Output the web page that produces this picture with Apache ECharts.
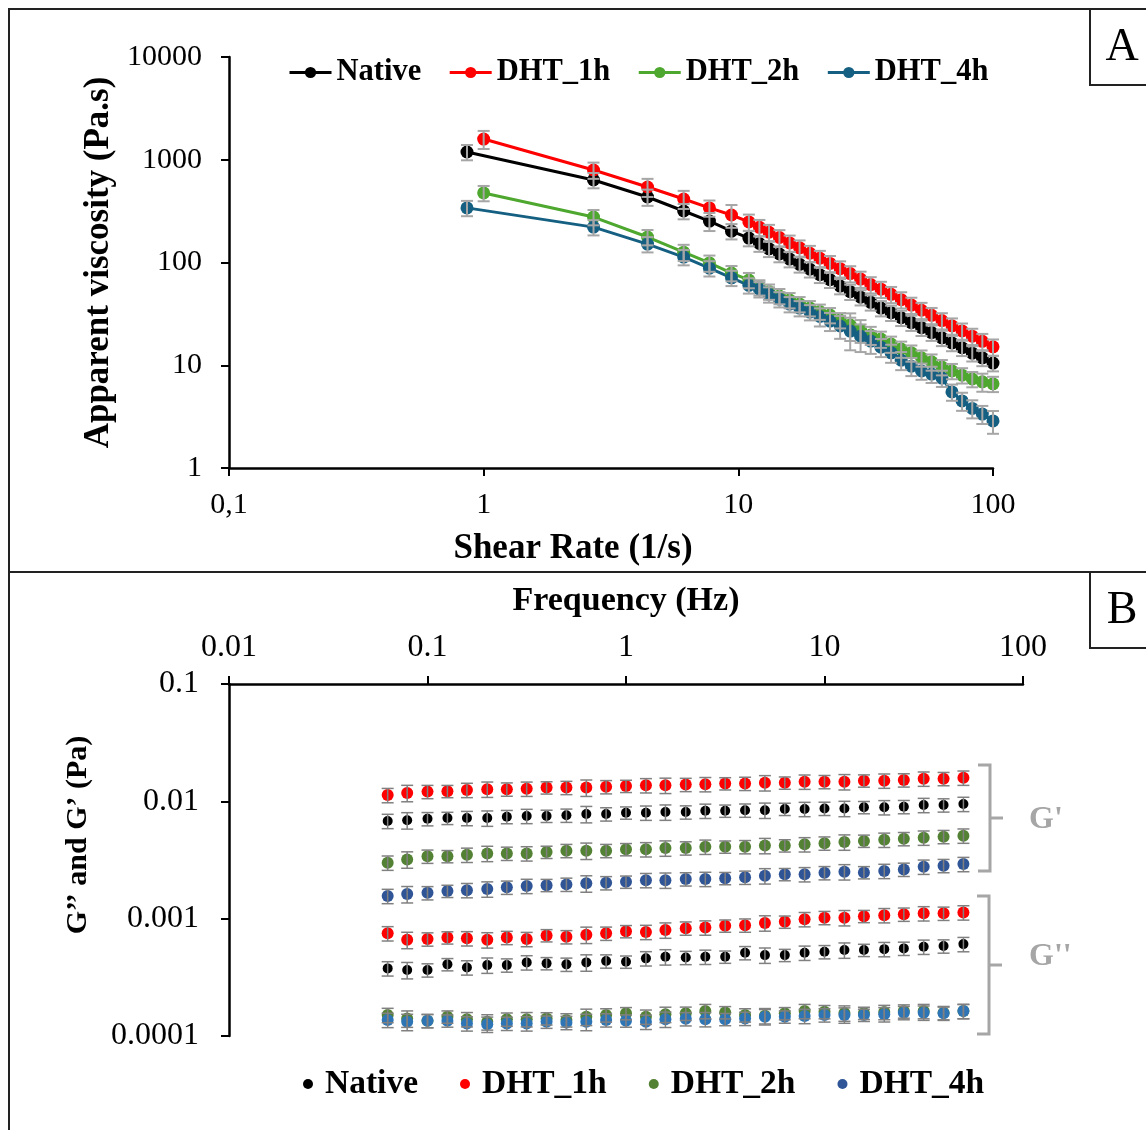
<!DOCTYPE html>
<html><head><meta charset="utf-8">
<script src="https://cdn.jsdelivr.net/npm/echarts@6/dist/echarts.min.js"></script>
<style>html,body{margin:0;padding:0;background:#fff}#c{width:1146px;height:1130px}</style>
</head><body><div id="c"></div>
<script>
// ---------- Panel A data ----------
const seriesNames = ['Native', 'DHT_1h', 'DHT_2h', 'DHT_4h'];
const shearRate = [1, 2.7, 4.4, 6.1, 7.7, 9.4, 11, 12.1, 13.2, 14.5, 15.9, 17.4, 19.1, 20.9, 22.9, 25.1, 27.5, 30.2, 33.1, 36.3, 39.8, 43.6, 47.8, 52.4, 57.4, 63, 69, 75.6, 82.9, 90.8, 100];
const firstShear = [0.86, 1.0, 1.0, 0.86];
const viscNative = [1190, 635, 434, 317, 253, 202, 173, 153, 136, 121, 108, 96, 86, 76, 68, 59, 52, 46, 41, 36, 32.5, 29, 26, 23.2, 20.8, 18.5, 16.5, 14.8, 13.1, 11.8, 10.5];
const viscDHT1h = [1590, 795, 543, 415, 340, 290, 248, 220, 197, 175, 155, 139, 123, 110, 98, 87, 78, 69, 61, 55, 49, 43.5, 38.5, 34.3, 30.6, 27.2, 24.2, 21.6, 19.2, 17.1, 15.1];
const viscDHT2h = [475, 277, 177, 126, 99, 79, 67.6, 57.4, 52.2, 47.2, 43.1, 39.4, 36.0, 33.3, 30.8, 27.5, 24.6, 22.0, 19.7, 18.0, 16.1, 14.4, 13.2, 11.8, 10.8, 9.6, 8.8, 8.0, 7.35, 6.9, 6.6];
const viscDHT4h = [340, 221, 151, 113, 88, 71, 60, 55, 49, 44, 39.4, 36, 32.9, 29.8, 26.9, 24.1, 21.5, 19.2, 17.2, 15.0, 13.2, 11.2, 9.8, 8.8, 8.2, 7.5, 5.5, 4.5, 3.8, 3.35, 2.87];
// relative standard deviations (fraction of value)
const errNativeA = [0.17, 0.17, 0.18, 0.17, 0.2, 0.17, 0.17, 0.17, 0.17, 0.17, 0.17, 0.17, 0.17, 0.17, 0.17, 0.17, 0.17, 0.17, 0.17, 0.17, 0.17, 0.17, 0.17, 0.17, 0.17, 0.17, 0.17, 0.17, 0.17, 0.17, 0.17];
const errDHT1hA = [0.2, 0.18, 0.2, 0.2, 0.18, 0.25, 0.18, 0.18, 0.18, 0.18, 0.18, 0.18, 0.18, 0.18, 0.18, 0.18, 0.18, 0.18, 0.18, 0.18, 0.18, 0.18, 0.18, 0.18, 0.18, 0.18, 0.18, 0.18, 0.18, 0.18, 0.18];
const errDHT2hA = [0.17, 0.17, 0.17, 0.18, 0.18, 0.17, 0.17, 0.17, 0.17, 0.17, 0.17, 0.17, 0.17, 0.17, 0.17, 0.17, 0.3, 0.25, 0.2, 0.18, 0.18, 0.18, 0.18, 0.18, 0.18, 0.17, 0.17, 0.17, 0.17, 0.2, 0.17];
const errDHT4hA = [0.17, 0.17, 0.17, 0.17, 0.17, 0.17, 0.17, 0.17, 0.17, 0.17, 0.17, 0.17, 0.17, 0.2, 0.2, 0.25, 0.35, 0.3, 0.25, 0.2, 0.2, 0.2, 0.2, 0.18, 0.18, 0.18, 0.18, 0.2, 0.2, 0.2, 0.25];
const xTickLabelsA = ['0,1', '1', '10', '100'];
const yTickLabelsA = ['1', '10', '100', '1000', '10000'];

// ---------- Panel B data ----------
const frequency = [0.063, 0.079, 0.1, 0.126, 0.158, 0.2, 0.251, 0.316, 0.398, 0.501, 0.631, 0.794, 1.0, 1.26, 1.58, 2.0, 2.51, 3.16, 3.98, 5.01, 6.31, 7.94, 10, 12.6, 15.8, 20, 25.1, 31.6, 39.8, 50.1];
const gpNative = [0.0068, 0.0069, 0.0071, 0.0072, 0.0072, 0.0072, 0.0074, 0.0075, 0.0075, 0.0076, 0.0078, 0.0078, 0.0080, 0.0080, 0.0081, 0.0081, 0.0083, 0.0083, 0.0084, 0.0084, 0.0086, 0.0086, 0.0087, 0.0087, 0.0089, 0.0089, 0.0090, 0.0093, 0.0093, 0.0095];
const gpDHT1h = [0.0113, 0.0118, 0.0121, 0.0122, 0.0125, 0.0127, 0.0127, 0.0128, 0.0131, 0.0131, 0.0131, 0.0133, 0.0135, 0.0137, 0.0137, 0.0139, 0.0140, 0.0142, 0.0142, 0.0144, 0.0144, 0.0147, 0.0147, 0.0147, 0.0150, 0.0150, 0.0152, 0.0156, 0.0156, 0.0159];
const gpDHT2h = [0.0030, 0.0032, 0.0034, 0.0034, 0.0035, 0.0036, 0.0036, 0.0036, 0.0037, 0.0038, 0.0038, 0.0038, 0.0039, 0.0039, 0.0040, 0.0040, 0.0041, 0.0041, 0.0041, 0.0042, 0.0042, 0.0043, 0.0044, 0.0045, 0.0046, 0.0047, 0.0048, 0.0049, 0.0050, 0.0051];
const gpDHT4h = [0.00156, 0.00162, 0.00166, 0.00172, 0.00175, 0.00179, 0.00185, 0.00190, 0.00193, 0.00196, 0.00200, 0.00202, 0.00206, 0.00213, 0.00213, 0.00218, 0.00218, 0.00221, 0.00225, 0.00232, 0.00239, 0.00239, 0.00246, 0.00251, 0.00248, 0.00255, 0.00263, 0.00277, 0.00283, 0.00292];
const gppNative = [0.000377, 0.000365, 0.000365, 0.000408, 0.000384, 0.000402, 0.000402, 0.000424, 0.000416, 0.000408, 0.000424, 0.000435, 0.000429, 0.000459, 0.000473, 0.000466, 0.000473, 0.000473, 0.000512, 0.000489, 0.000489, 0.000512, 0.000522, 0.000540, 0.000540, 0.000550, 0.000558, 0.000576, 0.000584, 0.000607];
const gppDHT1h = [0.00075, 0.00066, 0.00067, 0.00069, 0.00068, 0.00066, 0.00069, 0.00067, 0.00072, 0.00070, 0.00073, 0.00075, 0.00078, 0.00077, 0.00080, 0.00083, 0.00084, 0.00087, 0.00088, 0.00092, 0.00094, 0.00099, 0.00102, 0.00102, 0.00105, 0.00107, 0.00109, 0.00111, 0.00111, 0.00113];
const gppDHT2h = [0.000151, 0.000141, 0.000135, 0.000146, 0.000139, 0.000132, 0.000139, 0.000139, 0.000141, 0.000137, 0.000146, 0.000151, 0.000156, 0.000146, 0.000153, 0.000156, 0.000163, 0.000159, 0.000151, 0.000149, 0.000156, 0.000163, 0.000161, 0.000157, 0.000157, 0.000160, 0.000163, 0.000163, 0.000158, 0.000163];
const gppDHT4h = [0.000137, 0.000132, 0.000135, 0.000135, 0.000128, 0.000126, 0.000128, 0.000128, 0.000132, 0.000130, 0.000132, 0.000137, 0.000135, 0.000132, 0.000139, 0.000140, 0.000139, 0.000139, 0.000141, 0.000146, 0.000146, 0.000148, 0.000151, 0.000151, 0.000151, 0.000153, 0.000158, 0.000158, 0.000156, 0.000163];
const errB = [0.14, 0.16, 0.13, 0.12, 0.14, 0.15, 0.13, 0.14, 0.12, 0.13, 0.16, 0.13, 0.12, 0.14, 0.15, 0.13, 0.14, 0.12, 0.13, 0.15, 0.12, 0.14, 0.13, 0.15, 0.12, 0.14, 0.13, 0.14, 0.13, 0.14];
const xTickLabelsB = ['0.01', '0.1', '1', '10', '100'];
const yTickLabelsB = ['0.0001', '0.001', '0.01', '0.1'];

// ---------- styles ----------
const SERIF = "'Liberation Serif', 'Times New Roman', serif";
const colorsA = ['#000000', '#ff0000', '#4ea72e', '#156082'];
const colorsBp = ['#000000', '#ff0000', '#548235', '#2f5597'];
const colorsBpp = ['#000000', '#ff0000', '#548235', '#2e75b6'];

const viscA = [viscNative, viscDHT1h, viscDHT2h, viscDHT4h];
const errA = [errNativeA, errDHT1hA, errDHT2hA, errDHT4hA];
const gpB = [gpNative, gpDHT1h, gpDHT2h, gpDHT4h];
const gppB = [gppNative, gppDHT1h, gppDHT2h, gppDHT4h];

function decadeIndex(v, base) { return Math.round(Math.log10(v) - base); }

function errRender(capW, color, lw) {
  return function (params, api) {
    const x = api.value(0), lo = api.value(1), hi = api.value(2);
    const a = api.coord([x, lo]), b = api.coord([x, hi]);
    const st = { stroke: color, lineWidth: lw };
    return { type: 'group', children: [
      { type: 'line', shape: { x1: a[0], y1: a[1], x2: b[0], y2: b[1] }, style: st },
      { type: 'line', shape: { x1: a[0] - capW / 2, y1: a[1], x2: a[0] + capW / 2, y2: a[1] }, style: st },
      { type: 'line', shape: { x1: b[0] - capW / 2, y1: b[1], x2: b[0] + capW / 2, y2: b[1] }, style: st }
    ]};
  };
}

const series = [];
seriesNames.forEach((name, i) => {
  const xs = shearRate.map((v, k) => k === 0 ? firstShear[i] : v);
  series.push({
    name: name, type: 'line', xAxisIndex: 0, yAxisIndex: 0,
    data: xs.map((x, k) => [x, viscA[i][k]]),
    symbol: 'circle', symbolSize: 13, showSymbol: true,
    lineStyle: { color: colorsA[i], width: 3 },
    itemStyle: { color: colorsA[i] },
    z: 2, animation: false
  });
});
seriesNames.forEach((name, i) => {
  const xs = shearRate.map((v, k) => k === 0 ? firstShear[i] : v);
  series.push({
    name: 'errA_' + name, type: 'custom', xAxisIndex: 0, yAxisIndex: 0,
    renderItem: errRender(12, '#a6a6a6', 2),
    data: xs.map((x, k) => [x, viscA[i][k] * (1 - errA[i][k]), viscA[i][k] * (1 + errA[i][k])]),
    encode: { x: 0, y: [1, 2] }, z: 4, silent: true, animation: false
  });
});
seriesNames.forEach((name, i) => {
  series.push({
    name: 'B_' + name, type: 'scatter', xAxisIndex: 1, yAxisIndex: 1,
    data: frequency.map((f, k) => [f, gpB[i][k]]),
    symbol: 'circle', symbolSize: i === 0 ? 10 : 12,
    itemStyle: { color: colorsBp[i], opacity: 1 }, z: 2, animation: false
  });
  series.push({
    name: 'B2_' + name, type: 'scatter', xAxisIndex: 1, yAxisIndex: 1,
    data: frequency.map((f, k) => [f, gppB[i][k]]),
    symbol: 'circle', symbolSize: i === 0 ? 10 : 12,
    itemStyle: { color: colorsBpp[i], opacity: 1 }, z: 2, animation: false
  });
  [gpB[i], gppB[i]].forEach((arr, j) => {
    series.push({
      name: 'errB_' + j + name, type: 'custom', xAxisIndex: 1, yAxisIndex: 1,
      renderItem: errRender(12, '#808080', 1.5),
      data: frequency.map((f, k) => [f, arr[k] * (1 - errB[k]), arr[k] * (1 + errB[k])]),
      encode: { x: 0, y: [1, 2] }, z: 4, silent: true, animation: false
    });
  });
});

const axisLine = { show: true, lineStyle: { color: '#000', width: 2.5 } };
const tick = { show: true, inside: false, length: 8, lineStyle: { color: '#000', width: 2 } };
const tickLabelA = { color: '#000', fontFamily: SERIF, fontSize: 30 };
const tickLabelB = { color: '#000', fontFamily: SERIF, fontSize: 32 };
const titleStyle = { color: '#000', fontFamily: SERIF, fontWeight: 'bold' };

const option = {
  animation: false,
  backgroundColor: '#fff',
  textStyle: { fontFamily: SERIF },
  grid: [
    { left: 229, top: 57, width: 764, height: 411 },
    { left: 229, top: 684, width: 794, height: 352 }
  ],
  xAxis: [
    { type: 'log', logBase: 10, gridIndex: 0, min: 0.1, max: 100,
      axisLine: axisLine, axisTick: tick, splitLine: { show: false }, minorTick: { show: false },
      axisLabel: Object.assign({ margin: 22, formatter: v => xTickLabelsA[decadeIndex(v, -1)] }, tickLabelA),
      name: 'Shear Rate (1/s)', nameLocation: 'middle', nameGap: 63,
      nameTextStyle: Object.assign({ fontSize: 35, padding: [0, 76, 0, 0] }, titleStyle) },
    { type: 'log', logBase: 10, gridIndex: 1, min: 0.01, max: 100, position: 'top',
      axisLine: axisLine, axisTick: tick, splitLine: { show: false },
      axisLabel: Object.assign({ margin: 20, formatter: v => xTickLabelsB[decadeIndex(v, -2)] }, tickLabelB),
      name: 'Frequency (Hz)', nameLocation: 'middle', nameGap: 66,
      nameTextStyle: Object.assign({ fontSize: 34 }, titleStyle) }
  ],
  yAxis: [
    { type: 'log', logBase: 10, gridIndex: 0, min: 1, max: 10000,
      axisLine: axisLine, axisTick: tick, splitLine: { show: false },
      axisLabel: Object.assign({ margin: 27, formatter: v => yTickLabelsA[decadeIndex(v, 0)] }, tickLabelA),
      name: 'Apparent viscosity (Pa.s)', nameLocation: 'middle', nameGap: 111, nameRotate: 90,
      nameTextStyle: Object.assign({ fontSize: 35 }, titleStyle) },
    { type: 'log', logBase: 10, gridIndex: 1, min: 0.0001, max: 0.1,
      axisLine: axisLine, axisTick: tick, splitLine: { show: false },
      axisLabel: Object.assign({ margin: 30, formatter: v => yTickLabelsB[decadeIndex(v, -4)] }, tickLabelB),
      name: 'G’’ and G’ (Pa)', nameLocation: 'middle', nameGap: 136, nameRotate: 90,
      nameTextStyle: Object.assign({ fontSize: 30, padding: [0, 0, 0, 50] }, titleStyle) }
  ],
  legend: [
    { data: seriesNames, left: 283, top: 52, itemWidth: 42, itemHeight: 14, itemGap: 27,
      lineStyle: { width: 3 },
      textStyle: { fontFamily: SERIF, fontSize: 30.5, fontWeight: 'bold', color: '#000' } },
    { data: seriesNames.map(n => 'B_' + n), left: 298, top: 1062, icon: 'circle', itemWidth: 24, itemHeight: 10, itemGap: 42,
      symbolKeepAspect: true,
      formatter: n => n.replace('B_', ''),
      textStyle: { fontFamily: SERIF, fontSize: 33.5, fontWeight: 'bold', color: '#000' } }
  ],
  graphic: [
    { type: 'rect', shape: { x: 9, y: 9, width: 1200, height: 1200 }, style: { fill: null, stroke: '#222', lineWidth: 2 }, silent: true },
    { type: 'line', shape: { x1: 9, y1: 572, x2: 1146, y2: 572 }, style: { stroke: '#222', lineWidth: 2 }, silent: true },
    { type: 'rect', shape: { x: 1090, y: 9, width: 100, height: 76 }, style: { fill: '#fff', stroke: '#222', lineWidth: 2 }, silent: true },
    { type: 'text', x: 1122, y: 48, style: { text: 'A', fontFamily: SERIF, fontSize: 46, fill: '#000', align: 'center', verticalAlign: 'middle' }, silent: true },
    { type: 'rect', shape: { x: 1090, y: 572, width: 100, height: 76 }, style: { fill: '#fff', stroke: '#222', lineWidth: 2 }, silent: true },
    { type: 'text', x: 1122, y: 611, style: { text: 'B', fontFamily: SERIF, fontSize: 46, fill: '#000', align: 'center', verticalAlign: 'middle' }, silent: true },
    { type: 'polyline', shape: { points: [[978, 765], [990, 765], [990, 871], [978, 871]] }, style: { stroke: '#a6a6a6', lineWidth: 3, fill: null }, silent: true },
    { type: 'line', shape: { x1: 990, y1: 818, x2: 1003, y2: 818 }, style: { stroke: '#a6a6a6', lineWidth: 3 }, silent: true },
    { type: 'polyline', shape: { points: [[977, 896], [989, 896], [989, 1034], [977, 1034]] }, style: { stroke: '#a6a6a6', lineWidth: 3, fill: null }, silent: true },
    { type: 'line', shape: { x1: 989, y1: 965, x2: 1002, y2: 965 }, style: { stroke: '#a6a6a6', lineWidth: 3 }, silent: true },
    { type: 'text', x: 1029, y: 820, style: { text: "G'", fontFamily: SERIF, fontSize: 32, fontWeight: 'bold', fill: '#a6a6a6', align: 'left', verticalAlign: 'middle' }, silent: true },
    { type: 'text', x: 1029, y: 957, style: { text: "G''", fontFamily: SERIF, fontSize: 32, fontWeight: 'bold', fill: '#a6a6a6', align: 'left', verticalAlign: 'middle' }, silent: true }
  ],
  series: series
};

const chart = echarts.init(document.getElementById('c'), null, { renderer: 'canvas', width: 1146, height: 1130 });
chart.setOption(option);
</script></body></html>
